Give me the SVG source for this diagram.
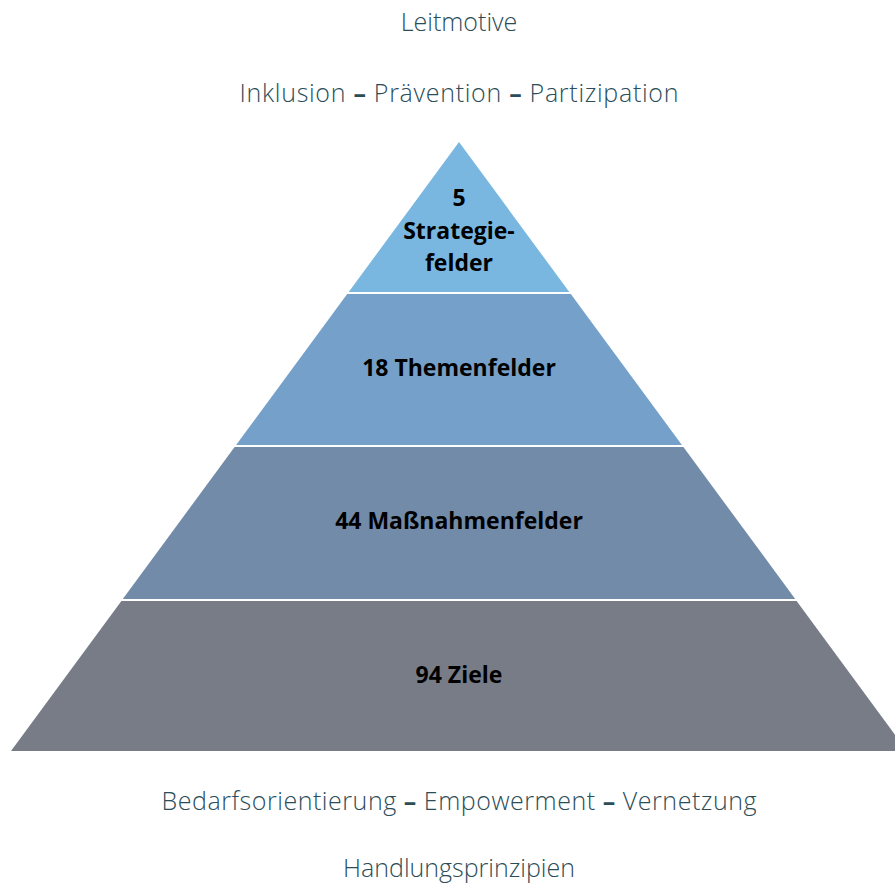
<svg xmlns="http://www.w3.org/2000/svg" width="895" height="886" viewBox="0 0 895 886">
<style>
.h{font-family:"Open Sans","Noto Sans","Liberation Sans",sans-serif;font-weight:300;font-size:25px;fill:#2b4d58;text-anchor:middle}
.d{font-weight:700}
.l{font-family:"Open Sans","Noto Sans","Liberation Sans",sans-serif;font-weight:700;font-size:23px;fill:#000;text-anchor:middle}
</style>
<rect width="895" height="886" fill="#fff"/>
<text class="h" x="459" y="31">Leitmotive</text>
<text class="h" x="459" y="102" textLength="439" lengthAdjust="spacing">Inklusion <tspan class="d">–</tspan> Prävention <tspan class="d">–</tspan> Partizipation</text>
<g id="level1">
<polygon points="459,142 569.3,292 348.7,292" fill="#79b7e0"/>
<text class="l" x="459" y="206">5</text>
<text class="l" x="459" y="239">Strategie-</text>
<text class="l" x="459" y="271">felder</text>
</g>
<g id="level2">
<polygon points="347.2,294 570.8,294 681.9,445 236.1,445" fill="#74a0c9"/>
<text class="l" x="459" y="376">18 Themenfelder</text>
</g>
<g id="level3">
<polygon points="234.6,447 683.4,447 795.2,599 122.8,599" fill="#728ba9"/>
<text class="l" x="459" y="529">44 Maßnahmenfelder</text>
</g>
<g id="level4">
<polygon points="121.4,601 796.6,601 907,751 11,751" fill="#777c87"/>
<text class="l" x="459" y="683">94 Ziele</text>
</g>
<g id="connectors"/>
<text class="h" x="459" y="810" textLength="595" lengthAdjust="spacing">Bedarfsorientierung <tspan class="d">–</tspan> Empowerment <tspan class="d">–</tspan> Vernetzung</text>
<text class="h" x="459" y="877">Handlungsprinzipien</text>
</svg>
